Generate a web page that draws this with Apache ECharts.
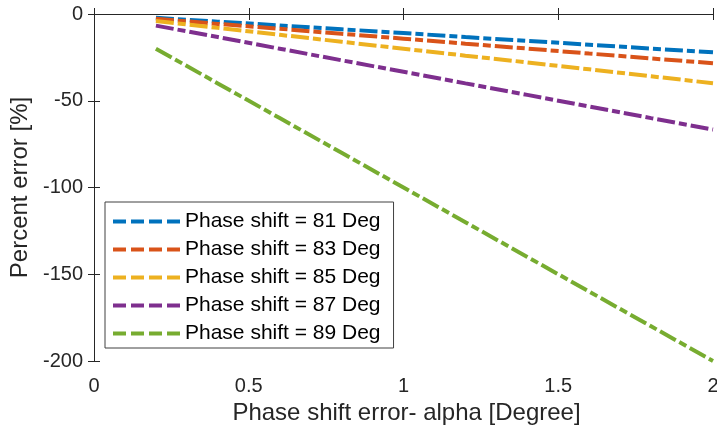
<!DOCTYPE html>
<html>
<head>
<meta charset="utf-8">
<script src="https://cdn.jsdelivr.net/npm/echarts@6/dist/echarts.min.js"></script>
<style>
  html, body { margin: 0; padding: 0; background: #ffffff; }
  #chart { width: 717px; height: 431px; }
</style>
</head>
<body>
<div id="chart"></div>
<script>
// Phase shift error (degrees) along the x axis
const alpha = [0.2, 0.4, 0.6, 0.8, 1.0, 1.2, 1.4, 1.6, 1.8, 2.0];

// Percent error for each nominal phase shift
const err81 = [-2.2, -4.4, -6.6, -8.8, -11.0, -13.3, -15.5, -17.7, -19.9, -22.1];
const err83 = [-2.8, -5.7, -8.5, -11.4, -14.2, -17.1, -19.9, -22.8, -25.6, -28.4];
const err85 = [-4.0, -8.0, -12.0, -16.0, -20.0, -24.0, -27.9, -31.9, -35.9, -39.9];
const err87 = [-6.7, -13.3, -20.0, -26.7, -33.3, -40.0, -46.6, -53.3, -60.0, -66.6];
const err89 = [-20.0, -40.0, -60.0, -80.0, -100.0, -120.0, -140.0, -160.0, -180.0, -200.0];

const seriesNames = [
  'Phase shift = 81 Deg',
  'Phase shift = 83 Deg',
  'Phase shift = 85 Deg',
  'Phase shift = 87 Deg',
  'Phase shift = 89 Deg'
];
const seriesValues = [err81, err83, err85, err87, err89];
const colors = ['#0072BD', '#D95319', '#EDB120', '#7E2F8E', '#77AC30'];

const xTicks = [0, 0.5, 1, 1.5, 2];
const yTicks = [-200, -150, -100, -50, 0];

const axisColor = '#262626';
const textColor = '#262626';
const font = 'Liberation Sans, Arial, sans-serif';

// four short dashes for the legend swatch
const dashIcon = 'path://M0 0H13V4H0Z M18 0H31V4H18Z M36 0H49V4H36Z M54 0H67V4H54Z';

const chart = echarts.init(document.getElementById('chart'), null, { renderer: 'canvas' });

const series = seriesNames.map((name, i) => ({
  name: name,
  type: 'line',
  data: alpha.map((a, j) => [a, seriesValues[i][j]]),
  showSymbol: false,
  symbol: 'none',
  color: colors[i],
  lineStyle: {
    color: colors[i],
    width: 4,
    type: [18, 4, 8, 4]
  },
  animation: false,
  z: 2
}));

const baseAxis = {
  axisLine: { show: true, lineStyle: { color: axisColor, width: 1 } },
  axisTick: { show: true, inside: true, length: 6, lineStyle: { color: axisColor } },
  splitLine: { show: false }
};

chart.setOption({
  backgroundColor: '#ffffff',
  animation: false,
  textStyle: { fontFamily: font },
  grid: { left: 94, right: 4, top: 14, bottom: 70, containLabel: false, outerBoundsMode: 'none' },
  legend: {
    orient: 'vertical',
    left: 105,
    top: 202,
    padding: [9, 13, 4, 8],
    itemGap: 7,
    itemWidth: 67,
    itemHeight: 4,
    icon: dashIcon,
    borderColor: '#404040',
    borderWidth: 1,
    backgroundColor: '#ffffff',
    data: seriesNames,
    textStyle: { fontSize: 21, color: '#000000', fontFamily: font, lineHeight: 21 }
  },
  xAxis: [
    Object.assign({}, baseAxis, {
      type: 'value',
      min: 0, max: 2, interval: 0.5,
      position: 'bottom',
      name: 'Phase shift error- alpha [Degree]',
      nameLocation: 'middle',
      nameGap: 38,
      nameTextStyle: { fontSize: 24, color: textColor, fontFamily: font, padding: [0, 0, 0, 6] },
      axisLabel: {
        fontSize: 20, color: textColor, margin: 15, fontFamily: font,
        formatter: v => (xTicks.indexOf(v) >= 0 ? String(v) : '')
      }
    }),
    Object.assign({}, baseAxis, {
      type: 'value',
      min: 0, max: 2, interval: 0.5,
      position: 'top',
      axisLabel: { show: false }
    })
  ],
  yAxis: [
    Object.assign({}, baseAxis, {
      type: 'value',
      min: -200, max: 0, interval: 50,
      position: 'left',
      name: 'Percent error [%]',
      nameLocation: 'middle',
      nameGap: 59,
      nameTextStyle: { fontSize: 24, color: textColor, fontFamily: font },
      axisLabel: {
        fontSize: 20, color: textColor, margin: 11, fontFamily: font,
        formatter: v => (yTicks.indexOf(v) >= 0 ? String(v) : '')
      }
    }),
    Object.assign({}, baseAxis, {
      type: 'value',
      min: -200, max: 0, interval: 50,
      position: 'right',
      axisLabel: { show: false }
    })
  ],
  series: series
});
</script>
</body>
</html>
